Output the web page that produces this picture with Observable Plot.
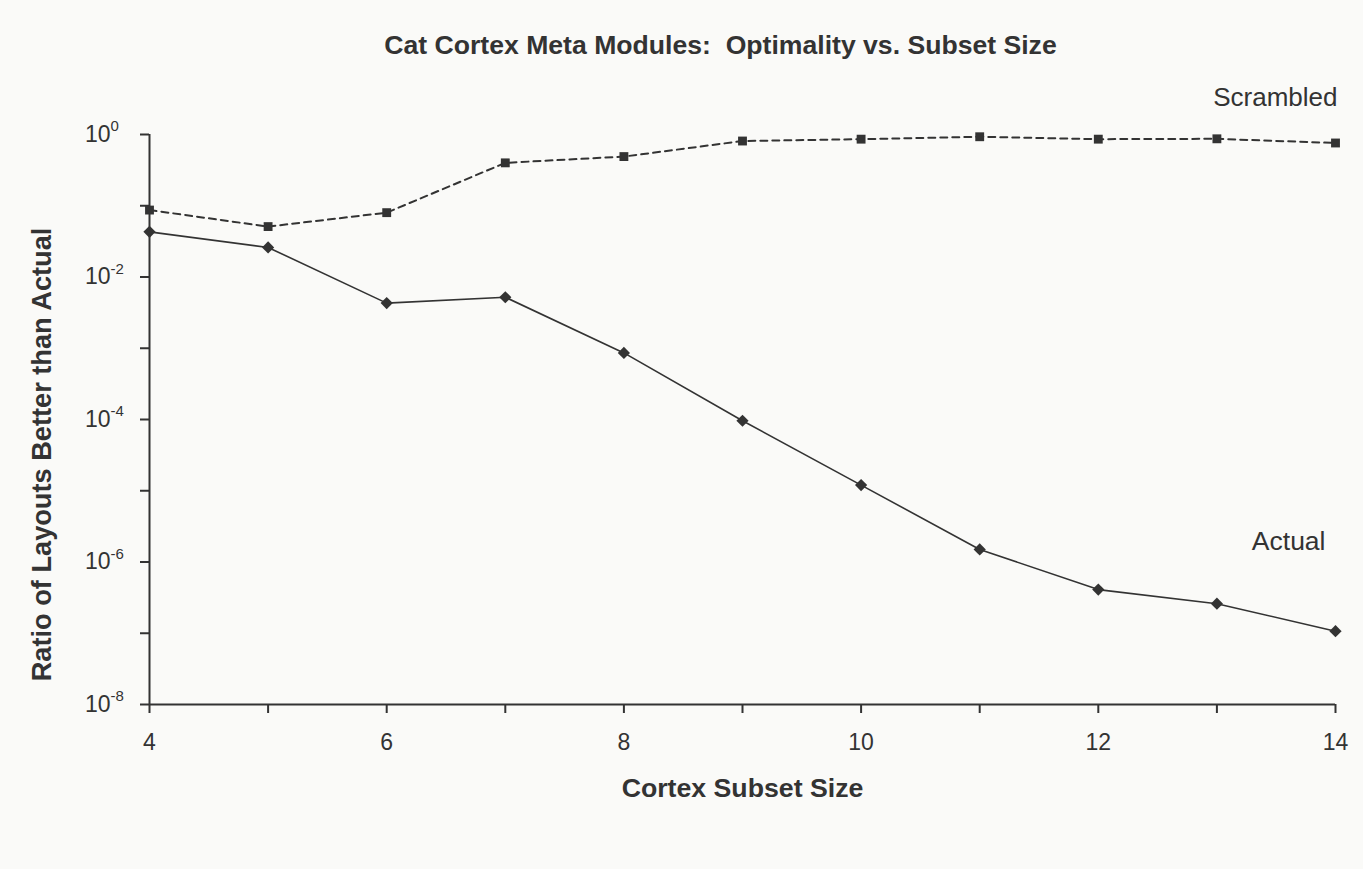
<!DOCTYPE html>
<html><head><meta charset="utf-8">
<script src="https://cdn.jsdelivr.net/npm/d3@7"></script>
<script src="https://cdn.jsdelivr.net/npm/@observablehq/plot@0.6"></script>
<style>
html,body{margin:0;padding:0;background:#fafaf8;}
#chart{width:1363px;height:869px;}
#chart g[aria-label="x-axis tick label"], #chart g[aria-label="y-axis tick label"]{font-size:23px;}
</style></head>
<body><div id="chart"></div>
<script>
const chartTitle = "Cat Cortex Meta Modules:  Optimality vs. Subset Size";
const xTitle = "Cortex Subset Size";
const yTitle = "Ratio of Layouts Better than Actual";
const subsetSizes = [4, 5, 6, 7, 8, 9, 10, 11, 12, 13, 14];
const actual    = [0.043, 0.026, 0.0043, 0.0052, 8.6e-4, 9.6e-5, 1.2e-5, 1.5e-6, 4.1e-7, 2.6e-7, 1.07e-7];
const scrambled = [0.087, 0.051, 0.080, 0.40, 0.49, 0.81, 0.86, 0.93, 0.86, 0.87, 0.76];
const xTicks = [4, 5, 6, 7, 8, 9, 10, 11, 12, 13, 14];
const xTickLabels = [4, 6, 8, 10, 12, 14];
const yExponents = [0, -1, -2, -3, -4, -5, -6, -7, -8];
const yLabelExponents = [0, -2, -4, -6, -8];
const seriesNames = ["Scrambled", "Actual"];

const ink = "#333333";
const font = "'Liberation Sans', Arial, sans-serif";

const actualData = subsetSizes.map((s, i) => ({size: s, ratio: actual[i]}));
const scrambledData = subsetSizes.map((s, i) => ({size: s, ratio: scrambled[i]}));
const yTicks = yExponents.map(e => Math.pow(10, e));
const yLabelData = yLabelExponents.map(e => ({v: Math.pow(10, e), e}));

const plot = Plot.plot({
  width: 1363,
  height: 869,
  marginLeft: 149,
  marginRight: 28,
  marginTop: 134,
  marginBottom: 165,
  style: {background: "transparent", color: ink, fontFamily: font},
  x: {domain: [4, 14]},
  y: {type: "log", domain: [1e-8, 1]},
  marks: [
    Plot.axisX({ticks: xTicks, tickSize: 9, tickPadding: 20, fontSize: 23,
      tickFormat: d => xTickLabels.includes(d) ? String(d) : "", label: null, stroke: ink, strokeWidth: 2}),
    Plot.axisY({ticks: yTicks, tickSize: 9, tickPadding: 30, fontSize: 23,
      tickFormat: d => yLabelExponents.some(e => Math.abs(Math.pow(10, e) - d) < d * 1e-6) ? "10" : "",
      label: null, stroke: ink, strokeWidth: 2}),
    Plot.text(yLabelData, {y: "v", text: d => String(d.e), frameAnchor: "left",
      textAnchor: "start", dx: -39, dy: -8, fontSize: 15, fill: ink}),
    Plot.ruleX([xTicks[0]], {stroke: ink, strokeWidth: 2}),
    Plot.ruleY([yTicks[yTicks.length - 1]], {stroke: ink, strokeWidth: 2}),
    Plot.line(scrambledData, {x: "size", y: "ratio", stroke: ink, strokeWidth: 2, strokeDasharray: "7,5"}),
    Plot.line(actualData, {x: "size", y: "ratio", stroke: ink, strokeWidth: 1.6}),
    Plot.dot(scrambledData, {x: "size", y: "ratio", symbol: "square", r: 5, fill: ink, stroke: "none"}),
    Plot.dot(actualData, {x: "size", y: "ratio", symbol: "diamond2", r: 5.5, fill: ink, stroke: "none"}),
    Plot.text([seriesNames[0]], {frameAnchor: "top-right", textAnchor: "end", lineAnchor: "middle",
      dx: 2, dy: -37, fontSize: 26, fill: ink}),
    Plot.text([seriesNames[1]], {frameAnchor: "right", textAnchor: "end", lineAnchor: "middle",
      dx: -10, dy: 122, fontSize: 26.5, fill: ink}),
    Plot.text([chartTitle], {frameAnchor: "top", textAnchor: "middle", lineAnchor: "middle", dy: -89, dx: -22,
      fontSize: 26.6, fontWeight: "bold", fill: ink}),
    Plot.text([xTitle], {frameAnchor: "bottom", textAnchor: "middle", lineAnchor: "middle", dy: 84,
      fontSize: 26.7, fontWeight: "bold", fill: ink}),
    Plot.text([yTitle], {frameAnchor: "left", rotate: -90, textAnchor: "middle", lineAnchor: "middle", dx: -107, dy: 35,
      fontSize: 27.2, fontWeight: "bold", fill: ink})
  ]
});
document.getElementById("chart").appendChild(plot);
</script>
</body></html>
